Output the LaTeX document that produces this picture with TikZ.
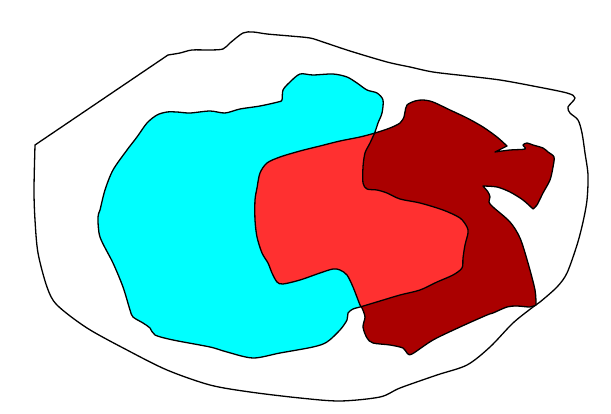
\documentclass[tikz,border=0pt]{standalone}
\usepackage{tikz}
\definecolor{blobcyan}{HTML}{00FFFF}
\definecolor{blobdark}{HTML}{AA0000}
\definecolor{blobred}{HTML}{FF3030}
\begin{document}
\begin{tikzpicture}[x=1pt,y=-1pt,line join=round,
  outline/.style={draw=black,line width=1.3pt}]
\useasboundingbox[fill=white] (0,0) rectangle (611,414);
\def\outerpath{(35,145) -- plot[smooth,tension=.5] coordinates {(168,55) (180,53) (192,50) (210,50) (223,49) (230,43) (243,33) (253,32) (267,34) (290,36) (310,38) (323,42) (350,51) (387,62) (410,67) (433,72) (467,76) (500,80) (533,86) (567,93) (575,98) (568,107) (570,113) (578,120) (582,133) (585,153) (588,175) (587,200) (583,222) (577,245) (567,273) (557,287) (540,302) (533,307) (513,323) (490,347) (467,365) (437,375) (400,388) (380,397) (340,401) (300,398) (250,392) (210,385) (167,370) (127,350) (87,328) (57,305) (47,287) (38,253) (35,220) (34,190) (35,145)} -- cycle}
\def\cyanpath{plot[smooth cycle,tension=.5] coordinates {(210,111) (190,113) (177,112) (167,112) (157,115) (147,123) (137,137) (127,150) (113,170) (105,190) (100,210) (98,217) (100,237) (113,263) (123,287) (130,310) (133,317) (143,323) (150,328) (155,335) (173,340) (210,347) (227,352) (253,358) (280,353) (313,347) (327,342) (340,330) (347,320) (348,313) (353,309) (360,307) (380,301) (400,295) (420,290) (437,282) (453,275) (462,268) (463,258) (465,245) (468,233) (467,227) (460,218) (443,210) (420,203) (400,199) (387,193) (377,190) (367,189) (363,183) (363,167) (365,153) (370,143) (375,132) (378,123) (382,113) (383,100) (377,93) (367,90) (357,83) (347,77) (333,74) (313,75) (300,74) (290,82) (283,90) (282,100) (278,102) (260,106) (240,109) (225,113)}}
\def\redpath{(536,305) -- plot[smooth,tension=.5] coordinates {(536,305) (530,307) (517,306) (507,307) (493,313) (487,315) (460,327) (433,340) (412,354) (407,353) (403,348) (390,345) (373,343) (367,338) (363,327) (365,317) (362,308) (360,305) (353,287) (347,275) (340,270) (333,269) (320,273) (300,280) (283,284) (277,282) (272,273) (268,263) (262,253) (257,237) (255,220) (255,200) (257,188) (260,173) (267,163) (280,157) (300,151) (320,146) (340,141) (360,137) (375,133) (390,128) (400,123) (404,117) (405,112) (407,105) (415,101) (423,100) (433,102) (450,110) (467,118) (483,127) (497,137) (507,146)} -- (495,152) -- plot[smooth,tension=.5] coordinates {(495,152) (510,150) (525,149) (523,145) (527,143) (533,145) (543,148) (548,152) (554,157) (553,167) (550,180) (543,193) (537,205) (533,209)} -- plot[smooth,tension=.5] coordinates {(533,209) (523,200) (510,192) (497,187) (483,186)} -- plot[smooth,tension=.5] coordinates {(483,186) (488,192) (490,197) (489,202) (493,207) (510,222) (520,238) (528,263) (535,290) (536,305)} -- cycle}
\draw[outline,fill=white] \outerpath;
\fill[blobcyan] \cyanpath;
\fill[blobdark] \redpath;
\begin{scope}
  \clip \cyanpath;
  \fill[blobred] \redpath;
\end{scope}
\draw[outline] \cyanpath;
\draw[outline] \redpath;
\end{tikzpicture}
\end{document}
